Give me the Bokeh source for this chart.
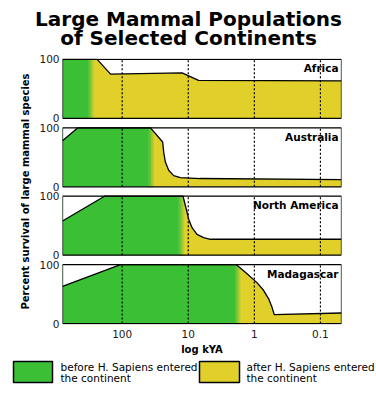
import numpy as np
from bokeh.plotting import figure
from bokeh.layouts import column
from bokeh.models import Range1d, FixedTicker, CustomJSTickFormatter
from bokeh.core.properties import value
from bokeh.embed import file_html
from bokeh.resources import INLINE

# ---------------- data (kyA ago, percent survival) ----------------
continents = ["Africa", "Australia", "North America", "Madagascar"]

africa_x = [800, 239, 150, 12.4, 7.0, 0.048]
africa_y = [100, 100, 75, 77, 64.5, 63.5]

australia_x = [800, 469, 37.3, 24.4, 23.5, 22.2, 19.8, 16.6, 13.2, 6.6, 0.048]
australia_y = [78, 100, 100, 76, 58, 42, 28, 19, 15.6, 14, 12]

namerica_x = [800, 185, 12.0, 10.4, 9.86, 8.77, 7.37, 5.85, 4.63, 0.048]
namerica_y = [57.9, 100, 100, 72, 61, 46.6, 35.4, 29.8, 27, 27]

madagascar_x = [800, 106, 1.87, 1.29, 0.914, 0.726, 0.61, 0.542, 0.5, 0.048]
madagascar_y = [63, 100, 100, 84.7, 69.5, 56.5, 42.4, 28.2, 15.3, 18]

# arrival of H. sapiens (kyA), where green turns yellow
arrival = [291, 35.5, 12.4, 1.75]

x_ticks = [100, 10, 1, 0.1]
legend_labels = [["before H. Sapiens entered", "the continent"],
                 ["after H. Sapiens entered", "the continent"]]

# ---------------- style ----------------
GREEN = "#3bbf35"
YELLOW = "#e1d02a"
FONT = "DejaVu Sans"
X_START, X_END = 800, 0.048
GAP = 16          # vertical gap between panels, in percent units
GW = 0.1          # width of green->yellow blend, in decades
NSTRIP = 10

series = [(africa_x, africa_y), (australia_x, australia_y),
          (namerica_x, namerica_y), (madagascar_x, madagascar_y)]


def blank(fig):
    fig.axis.visible = False
    fig.grid.visible = False
    fig.outline_line_color = None
    return fig


# ---------------- title ----------------
t = blank(figure(width=376, height=50, x_range=Range1d(0, 376), y_range=Range1d(50, 0),
                 toolbar_location=None, output_backend="svg", min_border=0,
                 frame_align=False))
t.text(x=[188, 188], y=[18, 37],
       text=["Large Mammal Populations", "of Selected Continents"],
       text_align="center", text_baseline="middle", text_font=value(FONT),
       text_font_style="bold", text_font_size="20px", text_color="black")

# ---------------- main panels ----------------
span = 4 * 100 + 3 * GAP
p = figure(frame_width=279, frame_height=266, x_axis_type="log",
           x_range=Range1d(X_START, X_END), y_range=Range1d(-1.5, span + 1.5),
           toolbar_location=None, output_backend="svg",
           min_border_left=62, min_border_right=35, min_border_top=8,
           min_border_bottom=28, frame_align=False)
p.grid.visible = False
p.outline_line_color = None

ybases = [(3 - i) * (100 + GAP) for i in range(4)]
yticks = []
overrides = {}
for b in ybases:
    yticks += [b, b + 100]
    overrides[b] = "0"
    overrides[b + 100] = "100"

p.yaxis.ticker = FixedTicker(ticks=yticks)
p.yaxis.major_label_overrides = overrides
p.xaxis.ticker = FixedTicker(ticks=x_ticks)
p.xaxis.formatter = CustomJSTickFormatter(code="return String(tick)")
for ax in (p.xaxis, p.yaxis):
    ax.axis_line_color = None
    ax.major_tick_line_color = None
    ax.minor_tick_line_color = None
    ax.major_tick_out = 0
    ax.major_tick_in = 0
    ax.minor_tick_out = 0
    ax.minor_tick_in = 0
    ax.major_label_text_font = FONT
    ax.major_label_text_font_size = "10.5px"
    ax.major_label_text_color = "#1a1a1a"
    ax.axis_label_text_font = FONT
    ax.axis_label_text_font_size = "10px"
    ax.axis_label_text_font_style = "bold"
    ax.axis_label_text_color = "black"
p.xaxis.major_label_standoff = 5
p.yaxis.major_label_standoff = 3
p.xaxis.axis_label = "log kYA"
p.xaxis.axis_label_standoff = 3
p.yaxis.axis_label = "Percent survival of large mammal species"
p.yaxis.axis_label_standoff = 5


def blend(c1, c2, f):
    a = [int(c1[k:k + 2], 16) for k in (1, 3, 5)]
    bb = [int(c2[k:k + 2], 16) for k in (1, 3, 5)]
    return "#%02x%02x%02x" % tuple(int(round(a[j] + (bb[j] - a[j]) * f)) for j in range(3))


for i, (name, (xs, ys), arr) in enumerate(zip(continents, series, arrival)):
    b = ybases[i]
    yv = [b + v for v in ys]
    left_edge = arr * 10 ** (GW / 2)
    right_edge = arr * 10 ** (-GW / 2)
    p.quad(left=X_START, right=left_edge, bottom=b, top=b + 100,
           fill_color=GREEN, line_color=None)
    edges = arr * 10 ** np.linspace(GW / 2, -GW / 2, NSTRIP + 1)
    cols = [blend(GREEN, YELLOW, (k + 0.5) / NSTRIP) for k in range(NSTRIP)]
    p.quad(left=edges[:-1], right=edges[1:], bottom=b, top=b + 100,
           fill_color=cols, line_color=cols, line_width=0.6)
    p.quad(left=right_edge, right=X_END, bottom=b, top=b + 100,
           fill_color=YELLOW, line_color=None)
    # white area above the survival curve
    p.varea(x=xs, y1=yv, y2=[b + 100] * len(xs), fill_color="white")
    # dotted decade lines
    p.segment(x0=x_ticks, y0=[b] * 4, x1=x_ticks, y1=[b + 100] * 4,
              line_color="black", line_dash="2 2", line_width=1.2)
    p.line(xs, yv, line_color="black", line_width=1.3)
    p.quad(left=X_START, right=X_END, bottom=b, top=b + 100,
           fill_color=None, line_color="black", line_width=1.3)
    p.text(x=[X_END], y=[b + 100], text=[name], text_align="right",
           text_baseline="top", x_offset=-3, y_offset=3,
           text_font=value(FONT), text_font_style="bold",
           text_font_size="10.5px", text_color="black")

# ---------------- legend ----------------
lg = blank(figure(width=376, height=43, x_range=Range1d(0, 376), y_range=Range1d(43, 0),
                  toolbar_location=None, output_backend="svg", min_border=0,
                  frame_align=False))
lg.quad(left=[13, 199], right=[52, 239], top=[4, 4], bottom=[25, 25],
        fill_color=[GREEN, YELLOW], line_color="black", line_width=1.5)
lg.text(x=[60, 246], y=[9.5, 9.5], text=[l[0] for l in legend_labels],
        text_baseline="middle", text_font=value(FONT), text_font_size="10.5px",
        text_color="black")
lg.text(x=[60, 246], y=[20, 20], text=[l[1] for l in legend_labels],
        text_baseline="middle", text_font=value(FONT), text_font_size="10.5px",
        text_color="black")

layout = column(t, p, lg)
open("out.html", "w").write(file_html(layout, INLINE))
